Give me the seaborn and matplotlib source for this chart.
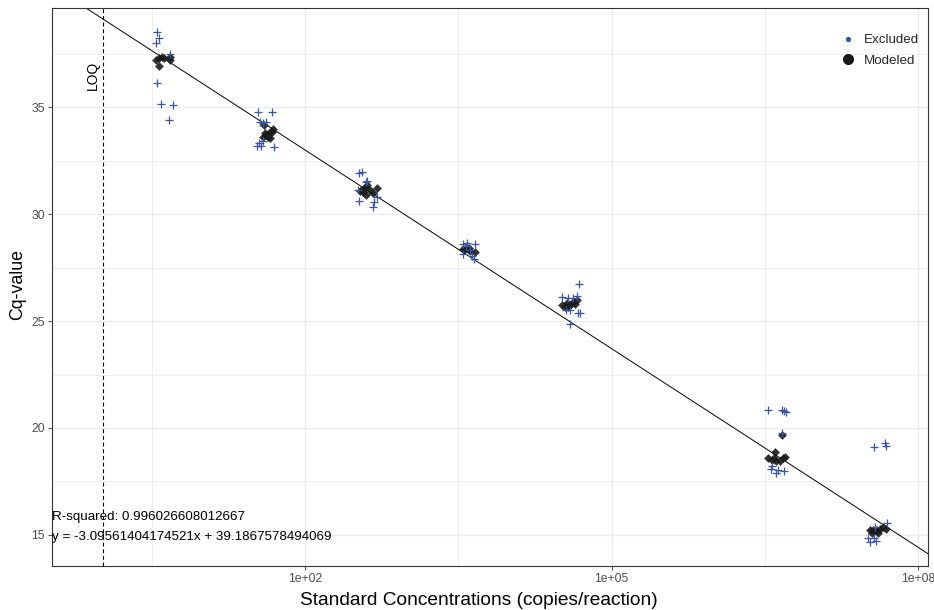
import numpy as np
import pandas as pd
import matplotlib
matplotlib.use("Agg")
import matplotlib.pyplot as plt
from matplotlib.lines import Line2D
import seaborn as sns

# Standard-curve measurements: concentration (copies/reaction) and Cq
excluded_conc = [3.56, 3.72, 3.48, 4.78, 3.56, 3.90, 5.10, 4.67,
                 34.7, 47.6, 36.3, 38.8, 41.5, 33.9, 37.1, 35.5, 38.8, 49.8,
                 337, 361, 405, 330, 337, 473, 463, 507, 396,
                 3516, 3846, 4605, 3516, 4306, 4508, 4116, 3760,
                 47970, 32730, 41880, 45820, 35800, 39170, 46880, 49090, 39170, 37430,
                 3.39e6, 4.65e6, 4.87e6, 5.08e6, 4.65e6, 3.71e6, 3.63e6, 4.25e6, 4.06e6, 4.87e6,
                 3.70e7, 4.73e7, 4.84e7, 4.96e7, 3.23e7, 3.38e7, 3.87e7, 3.70e7, 3.78e7]
excluded_cq = [38.50, 38.22, 37.99, 37.48, 36.12, 35.14, 35.09, 34.39,
               34.77, 34.77, 34.30, 34.25, 34.30, 33.18, 33.18, 33.32, 33.41, 33.13,
               31.92, 31.96, 31.54, 31.12, 30.61, 30.56, 30.33, 30.79, 31.50,
               28.60, 28.64, 28.60, 28.13, 28.04, 27.90, 28.32, 28.50,
               26.73, 26.12, 26.07, 26.17, 25.51, 25.51, 25.37, 25.37, 24.86, 26.07,
               20.84, 20.84, 20.79, 20.75, 19.77, 18.22, 18.08, 18.04, 17.90, 17.99,
               19.11, 19.30, 19.16, 15.58, 14.88, 14.65, 14.72, 14.88, 15.35]

modeled_conc = [3.48, 3.72, 3.99, 3.72, 4.78, 4.78, 4.18,
                39.7, 40.6, 41.5, 43.5, 45.5, 47.6, 48.7, 38.8, 44.5,
                345, 370, 396, 405, 433, 396, 463, 507, 370,
                3516, 3760, 3936, 4116, 4605, 3597, 4027,
                32730, 34990, 36640, 39170, 41880, 43850, 45820, 37430,
                3.39e6, 3.71e6, 3.97e6, 4.06e6, 4.44e6, 4.75e6, 4.97e6, 4.65e6, 3.88e6,
                3.38e7, 3.61e7, 3.95e7, 4.23e7, 4.53e7, 4.84e7, 4.04e7, 3.53e7]
modeled_cq = [37.20, 37.29, 37.34, 36.92, 37.34, 37.20, 37.29,
              34.16, 33.79, 33.69, 33.60, 33.55, 33.83, 33.97, 33.60, 33.79,
              31.07, 31.17, 31.26, 31.36, 31.12, 30.89, 30.98, 31.21, 31.03,
              28.36, 28.41, 28.36, 28.27, 28.22, 28.32, 28.41,
              25.75, 25.65, 25.84, 25.75, 25.89, 25.79, 25.98, 25.65,
              18.60, 18.50, 18.88, 18.46, 18.46, 18.60, 18.64, 19.67, 18.60,
              15.25, 15.21, 15.25, 15.30, 15.35, 15.30, 15.11, 15.11]

# Fitted standard curve and limit of quantification
slope = -3.09561404174521
intercept = 39.1867578494069
r_squared = 0.996026608012667
loq = 1.055

x_ticks = [1e2, 1e5, 1e8]
x_tick_labels = ["1e+02", "1e+05", "1e+08"]
y_ticks = [15, 20, 25, 30, 35]

sns.set_theme(style="white")
plt.rcParams["font.family"] = ["Liberation Sans", "DejaVu Sans"]

excluded = pd.DataFrame({"conc": excluded_conc, "cq": excluded_cq})
modeled = pd.DataFrame({"conc": modeled_conc, "cq": modeled_cq})

fig = plt.figure(figsize=(9.34, 6.10), dpi=100)
ax = fig.add_axes([52 / 934, 1 - 566 / 610, 876 / 934, 558 / 610])
ax.set_xscale("log")
ax.set_xlim(10 ** -0.4755, 10 ** 8.096)
ax.set_ylim(13.55, 39.63)

# grid: major + minor (midpoints in transformed space)
for v in [10 ** 0.5, 10 ** 3.5, 10 ** 6.5]:
    ax.axvline(v, color="#EBEBEB", lw=0.6, zorder=0)
for v in x_ticks:
    ax.axvline(v, color="#EBEBEB", lw=1.0, zorder=0)
for v in [17.5, 22.5, 27.5, 32.5, 37.5]:
    ax.axhline(v, color="#EBEBEB", lw=0.6, zorder=0)
for v in y_ticks:
    ax.axhline(v, color="#EBEBEB", lw=1.0, zorder=0)

# regression line over the full x range
line_x = np.logspace(-0.5, 8.2, 200)
fit = pd.DataFrame({"conc": line_x, "cq": slope * np.log10(line_x) + intercept})
sns.lineplot(data=fit, x="conc", y="cq", color="black", lw=0.7, ax=ax, zorder=2)

sns.scatterplot(data=modeled, x="conc", y="cq", marker="D", s=17, color="#1A1A1A",
                edgecolor="#1A1A1A", linewidth=0.3, alpha=0.9, ax=ax, zorder=3)
sns.scatterplot(data=excluded, x="conc", y="cq", marker="+", s=40, color="#3A55A6",
                linewidth=0.9, ax=ax, zorder=4)

ax.axvline(loq, color="black", lw=0.8, ls=(0, (3.5, 2.5)), zorder=2)
ax.text(0.84, 36.5, "LOQ", rotation=90, ha="center", va="center", fontsize=10,
        color="black")

ax.text(0.0, 15.84, f"R-squared: {r_squared}", transform=ax.get_yaxis_transform(),
        ha="left", va="center", fontsize=9.6, color="black")
ax.text(0.0, 14.91, f"y = {slope}x + {intercept}", transform=ax.get_yaxis_transform(),
        ha="left", va="center", fontsize=9.6, color="black")

ax.set_xticks(x_ticks)
ax.set_xticklabels(x_tick_labels)
ax.set_yticks(y_ticks)
ax.minorticks_off()
ax.tick_params(axis="both", which="major", length=3, width=0.6, color="#333333",
               labelsize=8.8, labelcolor="#4D4D4D", pad=2, bottom=True, left=True)

for sp in ax.spines.values():
    sp.set_color("#333333")
    sp.set_linewidth(0.8)

ax.set_xlabel("Standard Concentrations (copies/reaction)", fontsize=13.8, color="black")
ax.set_ylabel("Cq-value", fontsize=12.8, color="black")
ax.xaxis.set_label_coords((479 - 52) / 876, -0.047)
ax.yaxis.set_label_coords(-0.029, 0.505)

handles = [Line2D([], [], ls="", marker="o", markersize=2.8, color="#3A55A6"),
           Line2D([], [], ls="", marker="o", markersize=7, color="#1A1A1A")]
ax.legend(handles, ["Excluded", "Modeled"], loc="upper left",
          bbox_to_anchor=((840 - 52) / 876, 1 - (34 - 8) / 558), frameon=False,
          fontsize=9.6, handlelength=1.2, handletextpad=0.6, labelspacing=0.6,
          borderpad=0, borderaxespad=0)

fig.savefig("out.png", dpi=100)
